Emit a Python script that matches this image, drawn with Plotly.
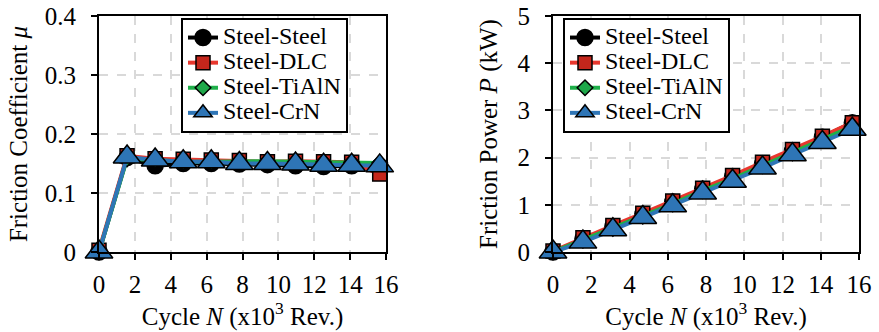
import plotly.graph_objects as go

cycles = [0, 1.565, 3.13, 4.695, 6.26, 7.825, 9.39, 10.955, 12.52, 14.085, 15.65]
series_names = ["Steel-Steel", "Steel-DLC", "Steel-TiAlN", "Steel-CrN"]

mu_steel = [0.0, 0.160, 0.146, 0.150, 0.150, 0.149, 0.148, 0.146, 0.145, 0.146, 0.145]
mu_dlc = [0.003, 0.163, 0.158, 0.157, 0.156, 0.155, 0.153, 0.154, 0.153, 0.152, 0.132]
mu_tialn = [0.0, 0.158, 0.156, 0.153, 0.153, 0.154, 0.154, 0.153, 0.152, 0.152, 0.151]
mu_crn = [0.0, 0.161, 0.156, 0.153, 0.153, 0.150, 0.150, 0.149, 0.147, 0.147, 0.146]

p_steel = [0.0, 0.28, 0.54, 0.80, 1.06, 1.33, 1.60, 1.87, 2.14, 2.43, 2.74]
p_dlc = [0.02, 0.30, 0.56, 0.82, 1.08, 1.35, 1.62, 1.90, 2.17, 2.45, 2.74]
p_tialn = [0.0, 0.25, 0.50, 0.76, 1.02, 1.30, 1.55, 1.83, 2.10, 2.38, 2.66]
p_crn = [0.0, 0.21, 0.47, 0.73, 0.98, 1.25, 1.50, 1.78, 2.06, 2.32, 2.60]

x_ticks = [0, 2, 4, 6, 8, 10, 12, 14, 16]
mu_ticks = [0, 0.1, 0.2, 0.3, 0.4]
mu_ticklabels = ["0", "0.1", "0.2", "0.3", "0.4"]
p_ticks = [0, 1, 2, 3, 4, 5]

styles = [
    dict(line="#000000", fill="#000000", symbol="circle", size=16),
    dict(line="#e8372e", fill="#c4261c", symbol="square", size=14),
    dict(line="#1fb04a", fill="#1fa84a", symbol="diamond", size=12),
    dict(line="#2e75b6", fill="#2e75b6", symbol="triangle-up", size=24),
]

FONT = "Liberation Serif"
LEGEND_TEXT_PX = 24


def legend_label(name):
    return f'<span style="font-size:{LEGEND_TEXT_PX}px">{name}</span>'


fig = go.Figure()

for name, vals, st in zip(series_names, [mu_steel, mu_dlc, mu_tialn, mu_crn], styles):
    fig.add_trace(go.Scatter(
        x=cycles, y=vals, name=legend_label(name), mode="lines+markers", cliponaxis=False,
        line=dict(color=st["line"], width=4),
        marker=dict(symbol=st["symbol"], size=st["size"], color=st["fill"],
                    line=dict(color="black", width=1.5)),
        xaxis="x", yaxis="y", legend="legend",
    ))

for name, vals, st in zip(series_names, [p_steel, p_dlc, p_tialn, p_crn], styles):
    fig.add_trace(go.Scatter(
        x=cycles, y=vals, name=legend_label(name), mode="lines+markers", cliponaxis=False,
        line=dict(color=st["line"], width=4),
        marker=dict(symbol=st["symbol"], size=st["size"], color=st["fill"],
                    line=dict(color="black", width=1.5)),
        xaxis="x2", yaxis="y2", legend="legend2",
    ))

W, H = 879, 332


def fx(px):
    return px / W


def fy(py):
    return 1 - py / H


ydom = [fy(252), fy(16)]

axis_common = dict(
    showline=True, linecolor="black", linewidth=2, mirror=True,
    ticks="outside", ticklen=6, tickwidth=2, tickcolor="black",
    showgrid=True, gridcolor="#d9d9d9", griddash="dash", gridwidth=1.5,
    zeroline=False, automargin=False, ticklabeloverflow="allow",
    tickfont=dict(family=FONT, size=25, color="black"),
)

legend_common = dict(
    xanchor="left", yanchor="top",
    bgcolor="white", bordercolor="black", borderwidth=2,
    font=dict(family=FONT, size=17, color="black"),
    tracegroupgap=0, itemwidth=30,
)

fig.update_layout(
    width=W, height=H,
    margin=dict(l=0, r=0, t=0, b=0, autoexpand=False),
    paper_bgcolor="white", plot_bgcolor="white",
    font=dict(family=FONT, size=25, color="black"),
    hovermode=False,
    xaxis=dict(domain=[fx(99), fx(386)], range=[0, 16], tickvals=x_ticks,
               anchor="y", ticklabelstandoff=3,
               title=dict(text="Cycle <i>N</i> (x10<sup>3</sup> Rev.)",
                          font=dict(family=FONT, size=25), standoff=0),
               **axis_common),
    yaxis=dict(domain=ydom, range=[0, 0.4], tickvals=mu_ticks, ticktext=mu_ticklabels,
               anchor="x", ticklabelstandoff=10,
               title=dict(text="Friction Coefficient <i>μ</i>",
                          font=dict(family=FONT, size=25), standoff=10),
               **axis_common),
    xaxis2=dict(domain=[fx(553), fx(859)], range=[0, 16], tickvals=x_ticks,
                anchor="y2", ticklabelstandoff=3,
                title=dict(text="Cycle <i>N</i> (x10<sup>3</sup> Rev.)",
                           font=dict(family=FONT, size=25), standoff=0),
                **axis_common),
    yaxis2=dict(domain=ydom, range=[0, 5], tickvals=p_ticks,
                anchor="x2", ticklabelstandoff=10,
                title=dict(text="Friction Power <i>P</i> (kW)",
                           font=dict(family=FONT, size=25), standoff=13),
                **axis_common),
    legend=dict(x=fx(181), y=fy(18), **legend_common),
    legend2=dict(x=fx(563), y=fy(18), **legend_common),
    showlegend=True,
)

# remove the default 8px page margin so the figure fills the window exactly
fig.write_html("out.html", config={"displayModeBar": False},
               post_script="document.body.style.margin='0';")
